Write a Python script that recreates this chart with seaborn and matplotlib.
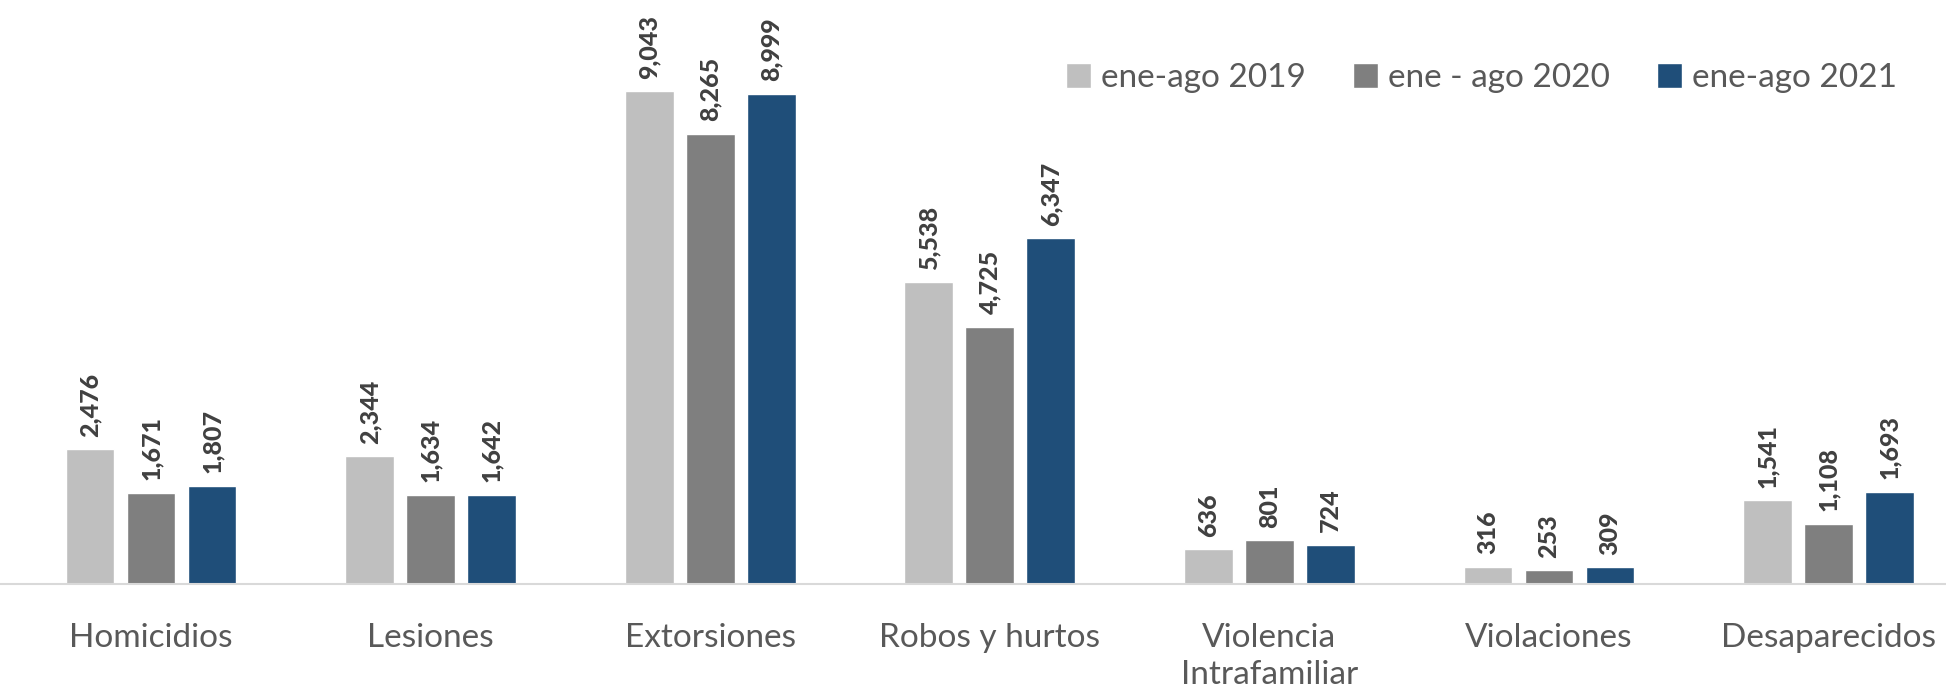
import pandas as pd
import seaborn as sns
import matplotlib.pyplot as plt

categories = ['Homicidios', 'Lesiones', 'Extorsiones', 'Robos y hurtos',
              'Violencia\nIntrafamiliar', 'Violaciones', 'Desaparecidos']
series = ['ene-ago 2019', 'ene - ago 2020', 'ene-ago 2021']
v2019 = [2476, 2344, 9043, 5538, 636, 316, 1541]
v2020 = [1671, 1634, 8265, 4725, 801, 253, 1108]
v2021 = [1807, 1642, 8999, 6347, 724, 309, 1693]
colors = ['#BFBFBF', '#7F7F7F', '#1F4E79']

rows = []
for s, vals in zip(series, [v2019, v2020, v2021]):
    for c, v in zip(categories, vals):
        rows.append({'cat': c, 'serie': s, 'valor': v})
df = pd.DataFrame(rows)

sns.set_style('white')
plt.rcParams['font.family'] = ['Lato', 'DejaVu Sans']

fig = plt.figure(figsize=(19.46, 6.92), dpi=100)
ax = fig.add_axes([0, 0.156, 1, 0.844])
sns.barplot(data=df, x='cat', y='valor', hue='serie', palette=colors,
            width=0.654, gap=0.2, ax=ax, saturation=1)

for cont in ax.containers:
    ax.bar_label(cont, labels=[f'{v:,.0f}' for v in cont.datavalues],
                 rotation=90, padding=9, fontsize=18, fontweight='black',
                 color='#404040')

ax.set_xlim(-0.54, 6.42)
ax.set_ylim(0, 10716)
ax.set_xlabel('')
ax.set_ylabel('')
ax.set_yticks([])
for sp in ['top', 'right', 'left']:
    ax.spines[sp].set_visible(False)
ax.spines['bottom'].set_color('#D9D9D9')
ax.spines['bottom'].set_linewidth(1.5)
ax.tick_params(axis='x', length=0, pad=28, labelsize=24, labelcolor='#595959')
for t in ax.get_xticklabels():
    t.set_linespacing(1.3)

ax.legend(loc='center right', bbox_to_anchor=(0.99, 0.887),
          bbox_transform=fig.transFigure, ncol=3, frameon=False,
          fontsize=24, labelcolor='#595959', handlelength=0.75, handleheight=0.75,
          handletextpad=0.3, columnspacing=1.4)

fig.savefig('out.png', dpi=100)
